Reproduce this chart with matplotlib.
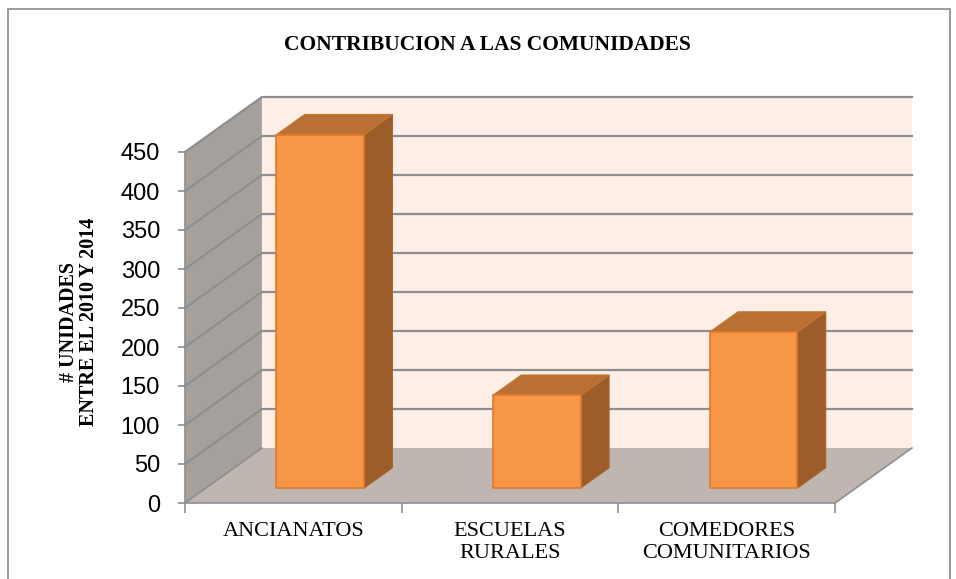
import matplotlib.pyplot as plt
from matplotlib.patches import Polygon, Rectangle

# datos del grafico
categorias = ['ANCIANATOS', 'ESCUELAS\nRURALES', 'COMEDORES\nCOMUNITARIOS']
unidades = [453, 119, 200]
yticks = [0, 50, 100, 150, 200, 250, 300, 350, 400, 450]

# profundidad del efecto 3D (en unidades de los ejes)
DX = 0.355
DY = 70.5
ymax = 450


def proy(x, y, d):
    # proyecta un punto (x, y, profundidad) al plano frontal
    return (x + d * DX, y + d * DY)


fig = plt.figure(figsize=(9.56, 5.79), dpi=100)
ax = fig.add_axes([185 / 956, 76 / 579, 650 / 956, 351 / 579])
ax.set_xlim(0, 3)
ax.set_ylim(0, ymax)
ax.set_facecolor('none')

# borde del area del grafico
fig.patches.append(Rectangle((8 / 956, -0.02), 942 / 956, 1.02 - 9 / 579,
                             transform=fig.transFigure, fill=False,
                             edgecolor='#8a8a8a', lw=1.2))

# pared del fondo
pared = [proy(0, 0, 1), proy(3, 0, 1), proy(3, ymax, 1), proy(0, ymax, 1)]
ax.add_patch(Polygon(pared, closed=True, facecolor='#fdeee7', edgecolor='none', clip_on=False, zorder=1))
# pared lateral
lateral = [proy(0, 0, 0), proy(0, 0, 1), proy(0, ymax, 1), proy(0, ymax, 0)]
ax.add_patch(Polygon(lateral, closed=True, facecolor='#a6a09d', edgecolor='none', clip_on=False, zorder=1))
# piso
piso = [proy(0, 0, 0), proy(3, 0, 0), proy(3, 0, 1), proy(0, 0, 1)]
ax.add_patch(Polygon(piso, closed=True, facecolor='#bfb6b2', edgecolor='none', clip_on=False, zorder=1))

# lineas de cuadricula
for v in yticks[1:]:
    x0, y0 = proy(0, v, 0)
    x1, y1 = proy(0, v, 1)
    x2, y2 = proy(3, v, 1)
    ax.plot([x0, x1, x2], [y0, y1, y2], color='#8e8e8e', lw=1.6, clip_on=False, zorder=2)

# bordes del piso
for a, b in [((0, 0, 0), (0, 0, 1)), ((3, 0, 0), (3, 0, 1))]:
    p, q = proy(*a), proy(*b)
    ax.plot([p[0], q[0]], [p[1], q[1]], color='#8e8e8e', lw=1.2, clip_on=False, zorder=2)

# barras 3D
d1, d2 = 0.27, 0.64
ancho = 0.405
for i, v in enumerate(unidades):
    xl = i + 0.325
    xr = xl + ancho
    y0 = d1 * DY
    cara = [(xl + d1 * DX, y0), (xr + d1 * DX, y0), (xr + d1 * DX, y0 + v), (xl + d1 * DX, y0 + v)]
    lado = [proy(xr, 0, d1), proy(xr, 0, d2), proy(xr, v, d2), proy(xr, v, d1)]
    tapa = [proy(xl, v, d1), proy(xr, v, d1), proy(xr, v, d2), proy(xl, v, d2)]
    ax.add_patch(Polygon(lado, closed=True, facecolor='#9c5d2a', edgecolor='#a8622c', lw=0.8, clip_on=False, zorder=5))
    ax.add_patch(Polygon(tapa, closed=True, facecolor='#ba7034', edgecolor='#c4772f', lw=0.8, clip_on=False, zorder=5))
    ax.add_patch(Polygon(cara, closed=True, facecolor='#f79646', edgecolor='#e07a2c', lw=1.2, clip_on=False, zorder=6))

# ejes
for s in ['top', 'right']:
    ax.spines[s].set_visible(False)
for s in ['left', 'bottom']:
    ax.spines[s].set_color('#8e8e8e')
    ax.spines[s].set_linewidth(1.2)
    ax.spines[s].set_zorder(3)

ax.set_yticks(yticks)
ax.set_yticklabels([str(t) for t in yticks], fontsize=17, family='Liberation Sans')
ax.tick_params(axis='y', direction='out', length=5, width=1.2, color='#8e8e8e', pad=13)

ax.set_xticks([i + 0.5 for i in range(len(categorias))])
ax.set_xticklabels(categorias, fontsize=16, family='Liberation Serif', linespacing=1.15)
ax.set_xticks([0, 1, 2, 3], minor=True)
ax.tick_params(axis='x', which='major', length=0, pad=14)
ax.tick_params(axis='x', which='minor', direction='out', length=7, width=1.2, color='#8e8e8e')

ax.set_ylabel('# UNIDADES\nENTRE EL 2010 Y 2014', fontsize=14.5, family='Liberation Serif',
              fontweight='bold', linespacing=1.0)
ax.yaxis.set_label_coords(-0.133, 0.515)

fig.text(0.51, 1 - 45 / 579, 'CONTRIBUCION A LAS COMUNIDADES', ha='center', va='center',
         fontsize=15.5, family='Liberation Serif', fontweight='bold')

fig.savefig('out.png', dpi=100)
